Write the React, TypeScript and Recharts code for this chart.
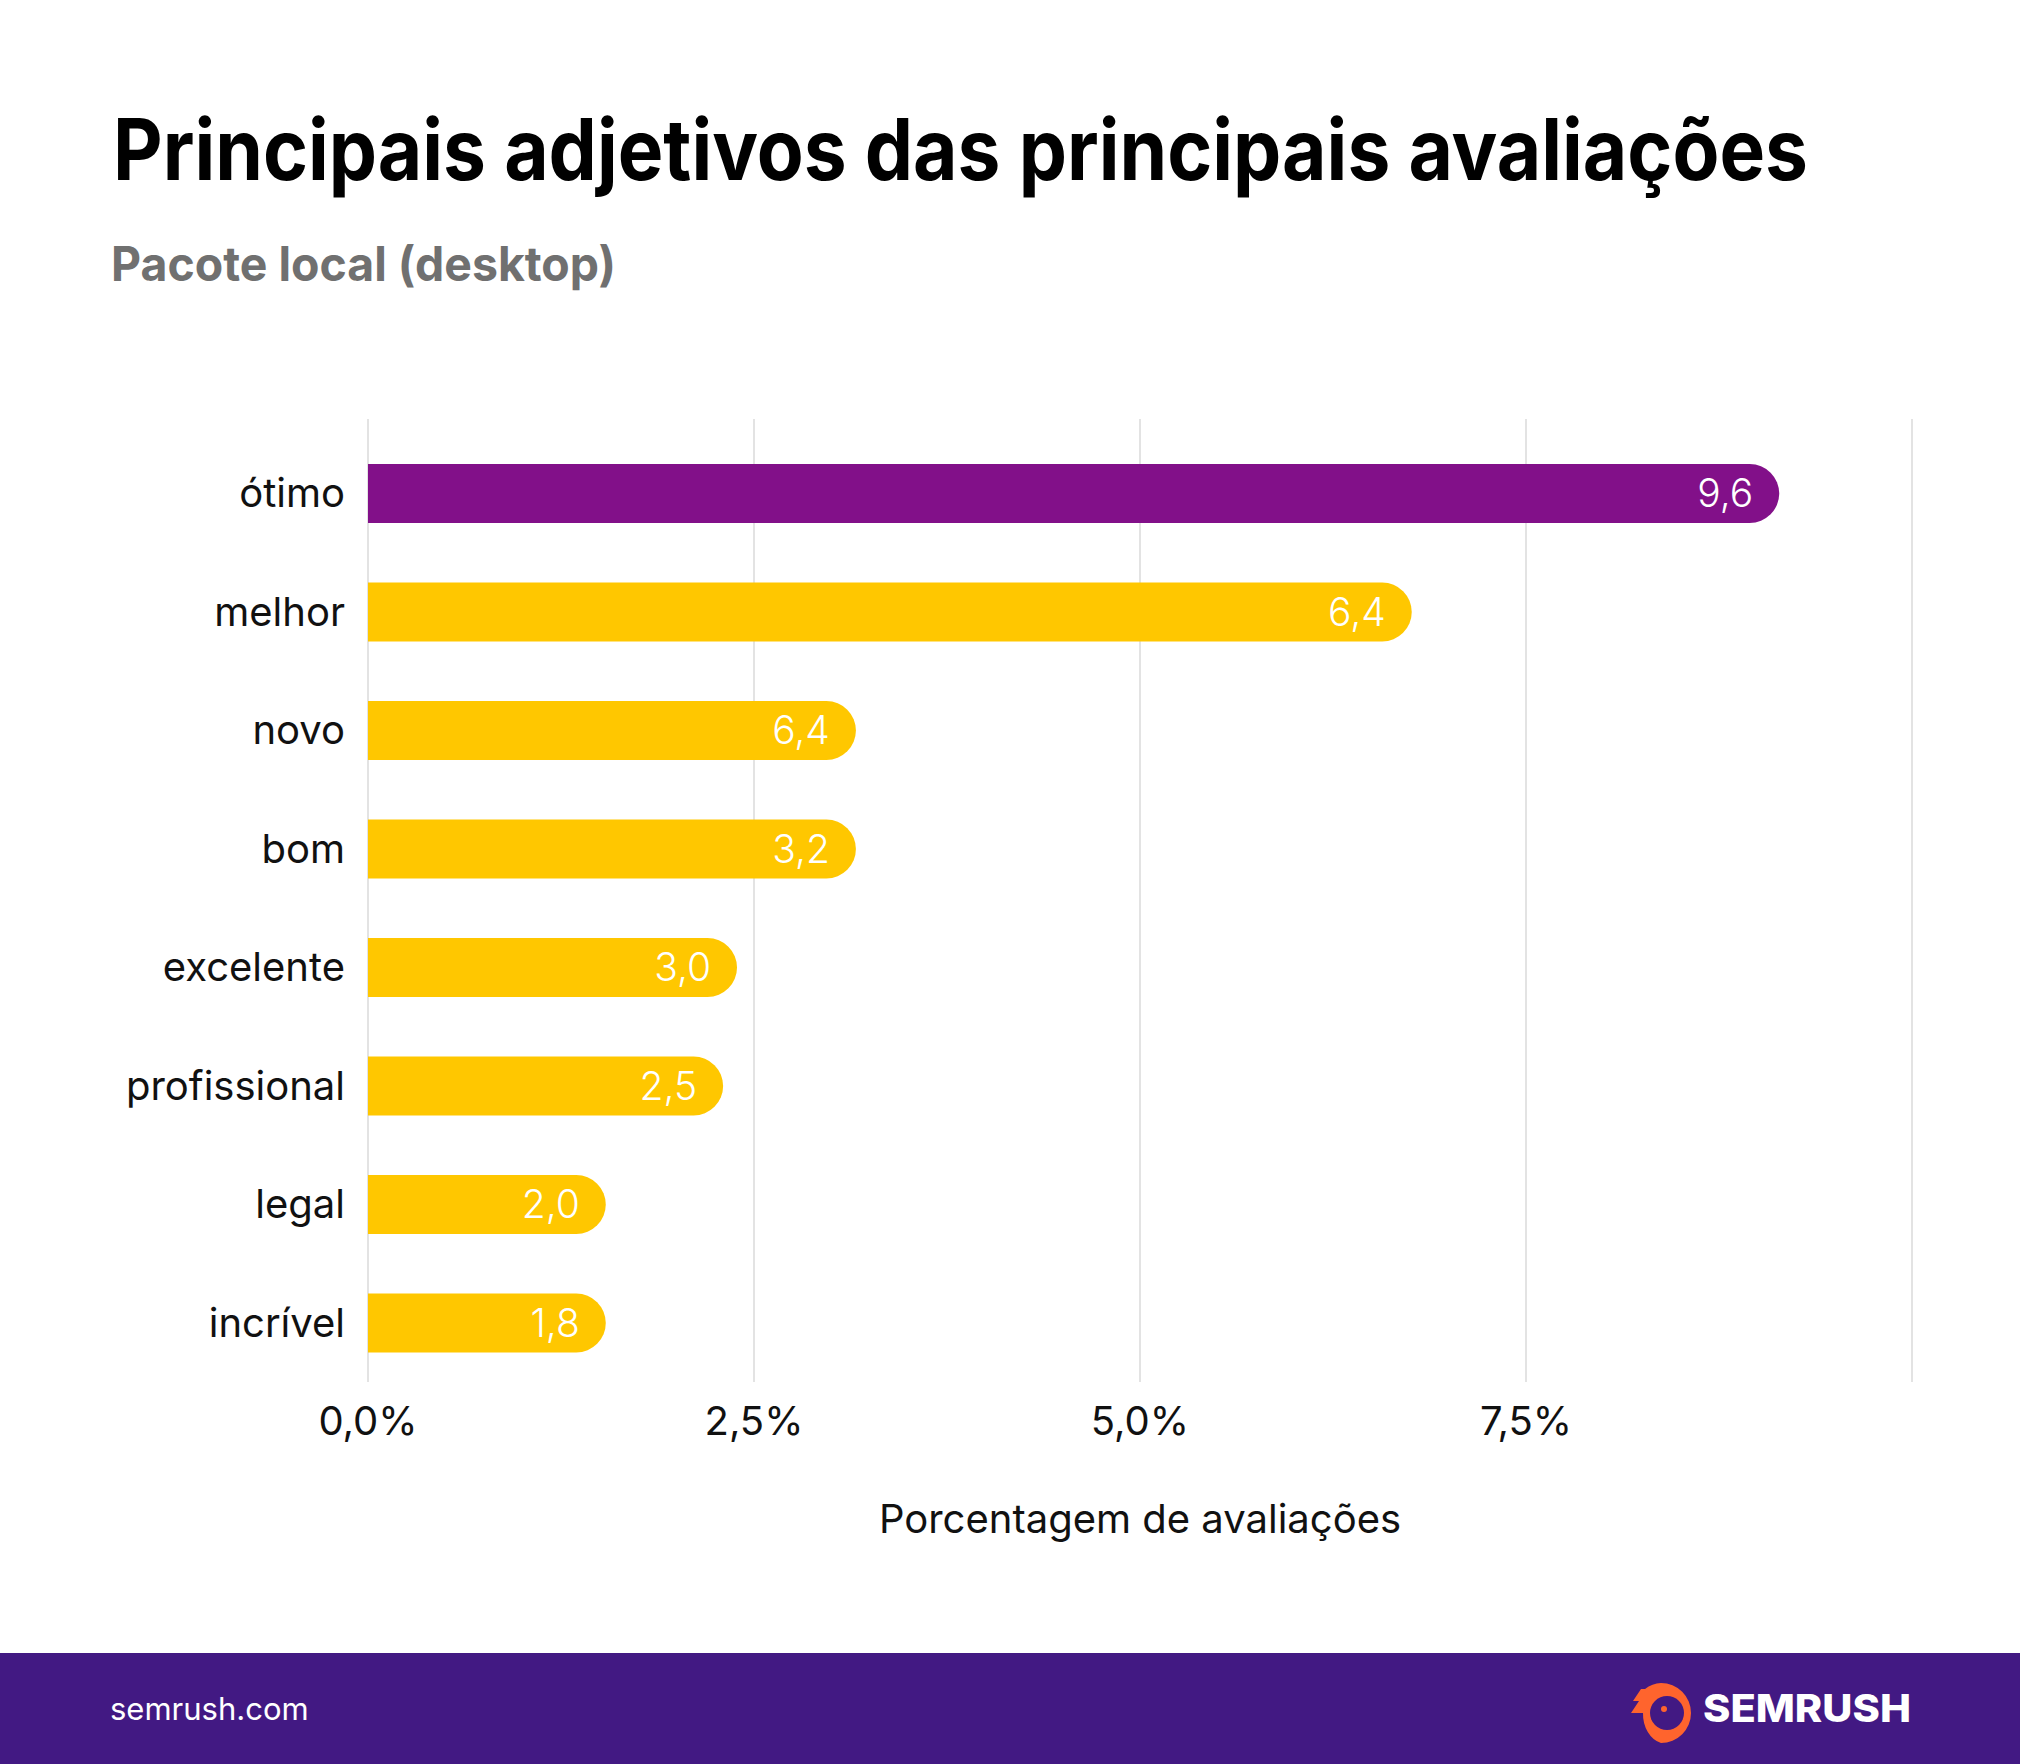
import React from 'react';
import { BarChart, Bar, XAxis, YAxis, CartesianGrid, Cell, LabelList } from 'recharts';

const categories = ['ótimo', 'melhor', 'novo', 'bom', 'excelente', 'profissional', 'legal', 'incrível'];
const barValues = [9.14, 6.76, 3.16, 3.16, 2.39, 2.3, 1.54, 1.54];
const valueLabels = ['9,6', '6,4', '6,4', '3,2', '3,0', '2,5', '2,0', '1,8'];
const xTicks = [0, 2.5, 5, 7.5, 10];

const title = 'Principais adjetivos das principais avaliações';
const subtitle = 'Pacote local (desktop)';
const xTitle = 'Porcentagem de avaliações';

const PURPLE = '#821089';
const YELLOW = '#FFC700';
const FONT = 'Inter, "Noto Sans", sans-serif';

const data = categories.map((c, i) => ({ name: c, value: barValues[i], label: valueLabels[i] }));

export default function App() {
  return (
    <div style={{ position: 'absolute', left: 0, top: 0, width: 2020, height: 1764, background: '#fff', overflow: 'hidden', fontFamily: FONT }}>
      <div style={{ position: 'absolute', left: 0, top: 0 }}>
        <BarChart
          width={2020}
          height={1653}
          data={data}
          layout="vertical"
          margin={{ top: 419, right: 108, bottom: 171, left: 68 }}
        >
          <CartesianGrid horizontal={false} vertical={true} stroke="#e3e3e3" strokeWidth={2} />
          <XAxis
            type="number"
            domain={[0, 10]}
            ticks={xTicks}
            interval={0}
            axisLine={false}
            tickLine={false}
            tickSize={0}
            tickMargin={25}
            height={100}
            tick={{ fill: '#111', fontSize: 40, fontFamily: FONT }}
            tickFormatter={(v: number) => (v === 10 ? '' : v.toFixed(1).replace('.', ',') + '%')}
          />
          <YAxis
            type="category"
            dataKey="name"
            width={300}
            axisLine={false}
            tickLine={false}
            tickSize={0}
            tickMargin={23}
            padding={{ top: 15, bottom: 0 }}
            tick={{ fill: '#111', fontSize: 40, fontFamily: FONT }}
            interval={0}
          />
          <Bar dataKey="value" barSize={59} radius={[0, 29.5, 29.5, 0]} isAnimationActive={false}>
            {data.map((d, i) => (
              <Cell key={d.name} fill={i === 0 ? PURPLE : YELLOW} />
            ))}
            <LabelList dataKey="label" position="insideRight" offset={26} fill="#fff" fontSize={39} fontFamily={FONT} fontWeight={300} />
          </Bar>
        </BarChart>
      </div>
      <svg width={2020} height={1764} style={{ position: 'absolute', left: 0, top: 0, pointerEvents: 'none' }}>
        <text x={113} y={180} fontSize={85} fontWeight={700} fill="#000" fontFamily={FONT} textLength={1695} lengthAdjust="spacingAndGlyphs">{title}</text>
        <text x={111} y={281} fontSize={48} fontWeight={700} fill="#707070" fontFamily={FONT} textLength={505} lengthAdjust="spacingAndGlyphs">{subtitle}</text>
        <text x={1140} y={1533} fontSize={40} fill="#111" textAnchor="middle" fontFamily={FONT}>{xTitle}</text>
        <rect x={0} y={1653} width={2020} height={111} fill="#421983" />
        <text x={110} y={1720} fontSize={31} fill="#fff" fontFamily={FONT}>semrush.com</text>
        <g transform="translate(1631,1683)">
          <path d="M30,0 A30,30 0 1 1 30,60 A24,30 0 0 1 12,30 L0,30 L8,18 L2,18 L10,6 L14,6 A30,30 0 0 1 30,0 Z" fill="#FF642D" />
          <circle cx={36} cy={30} r={17} fill="#421983" />
          <path d="M36,16 A14,14 0 0 1 40,42 A14,14 0 0 0 36,16 Z" fill="#FF642D" />
          <circle cx={33} cy={26} r={3} fill="#FF642D" />
        </g>
        <text x={1703} y={1722} fontSize={38} fontWeight={800} fill="#fff" fontFamily={FONT} textLength={208} lengthAdjust="spacingAndGlyphs">SEMRUSH</text>
      </svg>
    </div>
  );
}
